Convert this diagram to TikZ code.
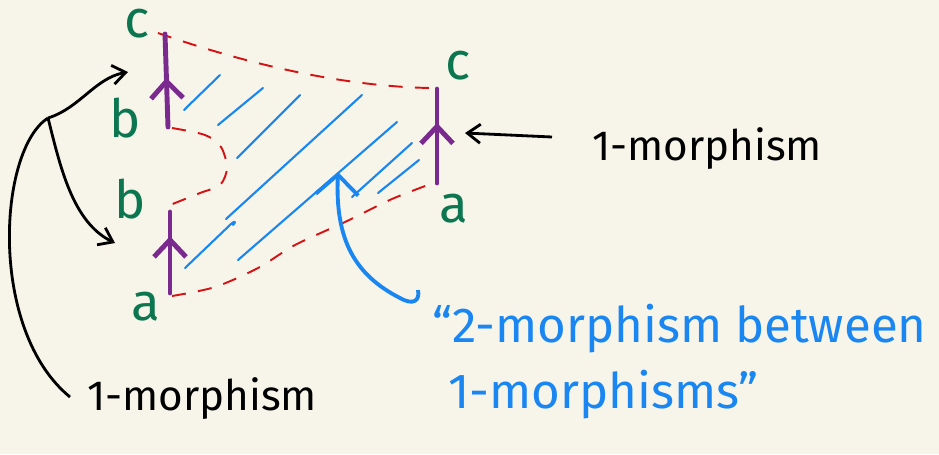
\documentclass[tikz,border=0pt]{standalone}
\usepackage{fontspec}
\setmainfont{Fira Sans}
\usetikzlibrary{arrows.meta,calc,decorations.markings}
\definecolor{paper}{HTML}{F7F5EA}
\definecolor{objgreen}{HTML}{0C7650}
\definecolor{morpurple}{HTML}{7A2A8E}
\definecolor{edgered}{HTML}{D41414}
\definecolor{cellblue}{HTML}{1A86F2}
\tikzset{obj/.style={text=objgreen,inner sep=0pt,font=\fontsize{30}{32}\selectfont},
  mor/.style={morpurple,line width=2.8pt,line cap=round,postaction={decorate},
    decoration={markings,mark=at position #1 with {\arrow{Straight Barb[length=3.4mm,width=6.4mm]}}}},
  edge/.style={edgered,line width=1.1pt,dash pattern=on 8pt off 7pt},
  hatch/.style={cellblue,line width=1.2pt,line cap=round},
  arr/.style={-{Straight Barb[length=2.6mm,width=3.8mm]},line width=1.6pt},
  lbl/.style={anchor=base west,inner sep=0pt,font=\fontsize{24}{26}\selectfont},
  bluelbl/.style={lbl,text=cellblue,font=\fontsize{28}{30}\selectfont}}

\begin{document}
\begin{tikzpicture}[x=0.02cm,y=-0.02cm,line join=round]
\fill[paper] (0,0) rectangle (939,454);
\useasboundingbox (0,0) rectangle (939,454);
% objects
\node[obj] (c1) at (137,24) {c};
\node[obj] (b1) at (125,118) {b};
\node[obj] (b2) at (130,199) {b};
\node[obj] (a1) at (146,307) {a};
\node[obj] (c2) at (458,66) {c};
\node[obj] (a2) at (454,209) {a};
% end points of the 1-morphisms
\coordinate (f0) at (168,127); \coordinate (f1) at (165,34);
\coordinate (g0) at (170,293); \coordinate (g1) at (170,212);
\coordinate (h0) at (437,183); \coordinate (h1) at (437,89);
% boundary of the 2-cell
\draw[edge] (158,33) .. controls (230,58) and (330,86) .. (430,88);
\draw[edge] plot[smooth] coordinates {(172,128) (205,135) (221,147) (227,168) (220,185) (200,193) (170,205)};
\draw[edge] plot[smooth] coordinates {(172,296) (215,287) (258,268) (295,245) (345,222) (392,199) (436,182)};
% hatching
\draw[hatch] (184,110) -- (220,75);
\draw[hatch] (218,125) -- (263,88);
\draw[hatch] (237,158) -- (300,95);
\draw[hatch] (226,219) -- (362,95);
\draw[hatch] (185,268) -- (231,224) .. controls (234,221) and (237,221) .. (233,225);
\draw[hatch] (238,260) -- (397,122);
\draw[hatch] (352,197) -- (412,143);
\draw[hatch] (378,193) -- (419,160);
% the 1-morphisms
\draw[mor=0.53] (f0) -- (f1);
\draw[mor=0.7] (g0) -- (g1);
\draw[mor=0.64] (h0) -- (h1);
% labels
\node[lbl] (morR) at (592,160) {1-morphism};
\node[lbl] (morL) at (87,410) {1-morphism};
\node[bluelbl] (twoM) at (432,342) {“2-morphism between};
\node[bluelbl] (twoMb) at (448,408) {1-morphisms”};
% pointers
\coordinate (rtail) at (552,137);
\coordinate (rtip) at (465,133);
\draw[arr] (rtail) -- (rtip);
\coordinate (hub) at (48,118);
\coordinate (ltop) at (128,72);
\coordinate (lbot) at (115,243);
\coordinate (lend) at (70,397);
\draw[line width=1.6pt] (lend) .. controls (-12,330) and (-2,150) .. (hub);
\draw[arr] (hub) .. controls (80,108) and (95,78) .. (ltop);
\draw[arr] (hub) .. controls (60,165) and (72,222) .. (lbot);
\coordinate (cell) at (338,172);
\coordinate (ctail) at (418,290);
\draw[cellblue,line width=2.2pt,-{Straight Barb[length=4mm,width=8.5mm]}]
  (ctail) .. controls (420,300) and (414,306) .. (400,298)
  .. controls (355,275) and (335,240) .. (cell);
\end{tikzpicture}
\end{document}
